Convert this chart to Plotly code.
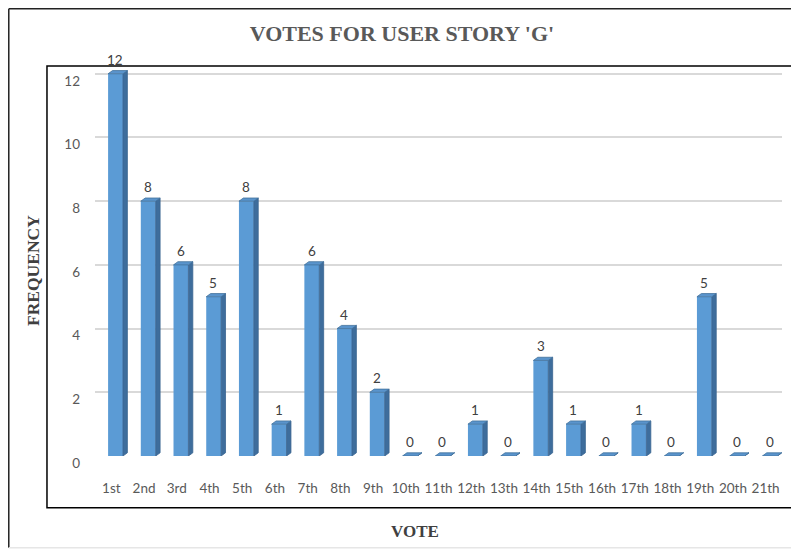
import plotly.graph_objects as go

categories = ["1st", "2nd", "3rd", "4th", "5th", "6th", "7th", "8th", "9th", "10th", "11th",
              "12th", "13th", "14th", "15th", "16th", "17th", "18th", "19th", "20th", "21th"]
votes = [12, 8, 6, 5, 8, 1, 6, 4, 2, 0, 0, 1, 0, 3, 1, 0, 1, 0, 5, 0, 0]
y_ticks = [0, 2, 4, 6, 8, 10, 12]

idx = list(range(len(categories)))

# pseudo-3D geometry (in data units)
F0, F1, S1, D = -0.10, 0.355, 0.49, 0.10

side_x, side_y, top_x, top_y = [], [], [], []
for i, v in zip(idx, votes):
    side_x += [i + F1, i + F1, i + S1, i + S1, i + F1, None]
    side_y += [0, v, v + D, D, 0, None]
    top_x += [i + F0, i + F1, i + S1, i + F0 + (S1 - F1), i + F0, None]
    top_y += [v, v, v + D, v + D, v, None]

LABEL_FONT = "Lato, Noto Sans, sans-serif"
SERIF = "Liberation Serif, Times New Roman, serif"

fig = go.Figure()
fig.add_trace(go.Bar(x=idx, y=votes, width=F1 - F0, offset=F0,
                     marker=dict(color="#5B9BD5", line=dict(width=0)),
                     hoverinfo="skip", showlegend=False))
fig.add_trace(go.Scatter(x=side_x, y=side_y, mode="lines", fill="toself",
                         fillcolor="#3E6D9C", line=dict(color="#3A6590", width=0.8),
                         hoverinfo="skip", showlegend=False))
fig.add_trace(go.Scatter(x=top_x, y=top_y, mode="lines", fill="toself",
                         fillcolor="#5A94CC", line=dict(color="#41719C", width=0.8),
                         hoverinfo="skip", showlegend=False))

for i, v in zip(idx, votes):
    fig.add_annotation(x=i + 0.12, y=v, text=str(v), showarrow=False,
                       yshift=14, font=dict(family=LABEL_FONT, size=13.5, color="#404040"))

# axis titles
fig.add_annotation(xref="paper", yref="paper", x=0.466, y=-0.196, text="<b>VOTE</b>",
                   showarrow=False, xanchor="center", yanchor="middle",
                   font=dict(family=SERIF, size=17, color="#404040"))
fig.add_annotation(xref="paper", yref="paper", x=-0.0902, y=0.478, text="<b>FREQUENCY</b>",
                   showarrow=False, xanchor="center", yanchor="middle", textangle=-90,
                   font=dict(family=SERIF, size=17.5, color="#404040"))

fig.update_layout(
    width=791, height=541,
    margin=dict(l=87, r=17, t=61, b=93),
    paper_bgcolor="white", plot_bgcolor="white",
    barmode="overlay",
    title=dict(text="<b>VOTES FOR USER STORY 'G'</b>", x=0.498, xanchor="center", y=0.954, yanchor="middle",
               font=dict(family=SERIF, size=22, color="#595959")),
    xaxis=dict(range=[-0.5, 20.5], tickmode="array", tickvals=idx, ticktext=categories,
               showgrid=False, zeroline=False, showline=False, ticks="",
               ticklabelstandoff=22,
               tickfont=dict(family=LABEL_FONT, size=13.5, color="#595959")),
    yaxis=dict(range=[0, 12.15], tickmode="array", tickvals=y_ticks,
               showgrid=True, gridcolor="#D9D9D9", gridwidth=1.5, zeroline=False, showline=False, ticks="",
               ticklabelstandoff=14, ticklabelshift=7,
               tickfont=dict(family=LABEL_FONT, size=13.5, color="#595959")),
    shapes=[
        # inner chart frame
        dict(type="rect", xref="paper", yref="paper", x0=-0.0699, x1=1.016, y0=-0.134, y1=1.008,
             line=dict(color="black", width=1.5), fillcolor="rgba(0,0,0,0)", layer="below"),
        # outer frame: top and left dark, bottom faint
        dict(type="line", xref="paper", yref="paper", x0=-0.1255, x1=1.03, y0=1.156, y1=1.156,
             line=dict(color="#222222", width=1.5)),
        dict(type="line", xref="paper", yref="paper", x0=-0.1255, x1=-0.1255, y0=-0.237, y1=1.156,
             line=dict(color="#222222", width=1.5)),
        dict(type="line", xref="paper", yref="paper", x0=-0.1255, x1=1.03, y0=-0.237, y1=-0.237,
             line=dict(color="#E6E6E6", width=1.5)),
    ],
)

fig.write_html("out.html")
